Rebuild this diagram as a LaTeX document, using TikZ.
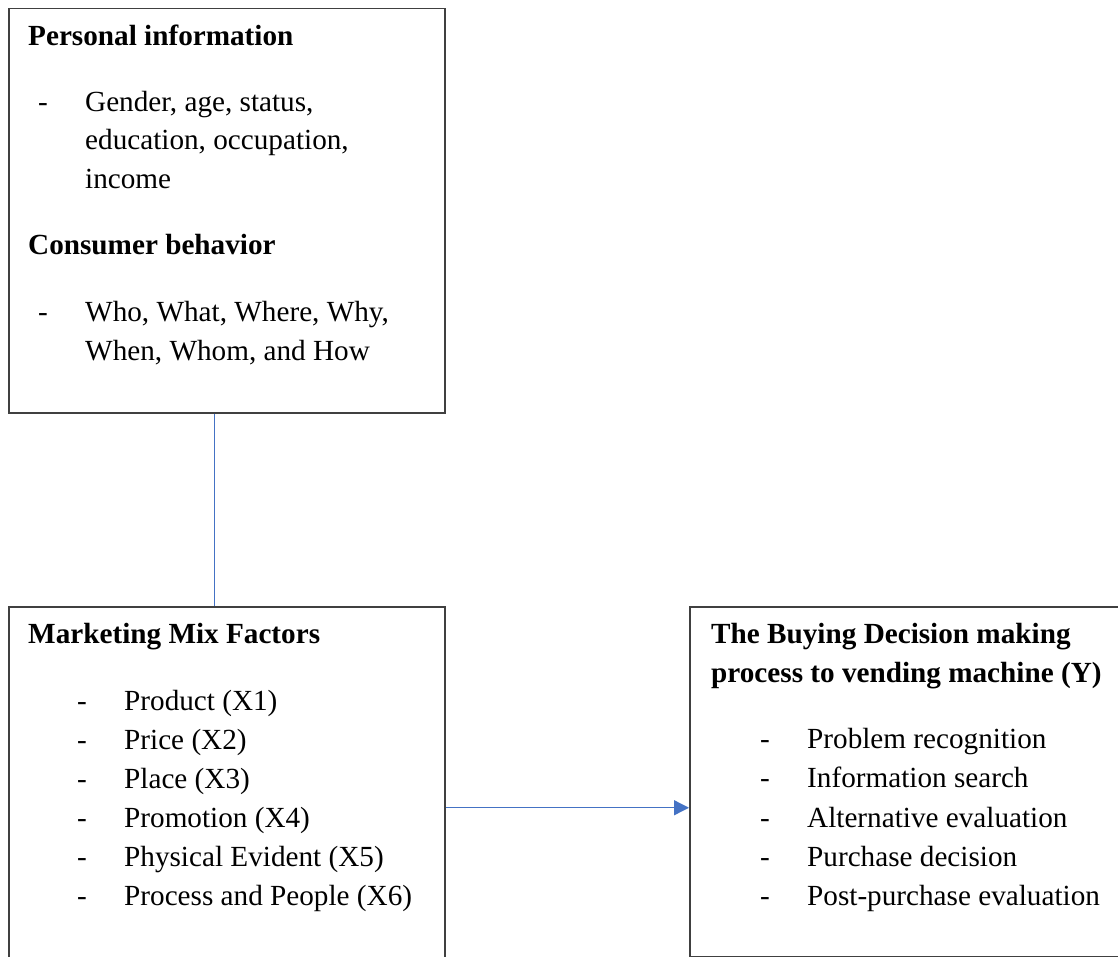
\documentclass[tikz,border=0pt]{standalone}
\usepackage{fontspec}
\setmainfont{Liberation Serif}
\usetikzlibrary{arrows.meta}
\definecolor{boxline}{HTML}{404040}
\definecolor{linkblue}{HTML}{4472C4}
\tikzset{
  panel/.style={draw=boxline, line width=1.5pt, rectangle, inner sep=0pt, anchor=north west},
  txt/.style={anchor=base west, inner sep=0pt, font=\fontsize{29.2}{39}\selectfont},
  head/.style={txt, font=\fontsize{29.2}{39}\selectfont\bfseries},
  link/.style={draw=linkblue, line width=1.3pt},
}
\begin{document}
\begin{tikzpicture}[x=1pt,y=-1pt]
\clip (0,0) rectangle (1118,957);
\fill[white] (0,0) rectangle (1118,957);
% boxes
\node[panel, minimum width=436pt, minimum height=404pt] (b1) at (8,8) {};
\node[panel, minimum width=436pt, minimum height=402pt] (b2) at (8,606) {};
\node[panel, minimum width=440pt, minimum height=350pt] (b3) at (689,606) {};
% box 1 text
\node[head] (t1) at (28,46) {Personal information};
\node[txt] (d1) at (38,112) {-};
\node[txt] (l1a) at (85,112) {Gender, age, status,};
\node[txt] (l1b) at (85,150) {education, occupation,};
\node[txt] (l1c) at (85,189) {income};
\node[head] (t2) at (28,255) {Consumer behavior};
\node[txt] (d2) at (38,322) {-};
\node[txt] (l2a) at (85,322) {Who, What, Where, Why,};
\node[txt] (l2b) at (85,360) {When, Whom, and How};
% box 2 text
\node[head] (t3) at (28,643) {Marketing Mix Factors};
\foreach \y/\s [count=\i] in {710/{Product (X1)},749/{Price (X2)},788/{Place (X3)},827/{Promotion (X4)},866/{Physical Evident (X5)},905/{Process and People (X6)}}{
  \node[txt] (md\i) at (77,\y) {-};
  \node[txt] (m\i) at (124,\y) {\s};
}
% box 3 text
\node[head] (t4) at (711,643) {The Buying Decision making};
\node[head] (t5) at (711,682) {process to vending machine (Y)};
\foreach \y/\s [count=\i] in {748/{Problem recognition},787/{Information search},827/{Alternative evaluation},866/{Purchase decision},905/{Post-purchase evaluation}}{
  \node[txt] (yd\i) at (760,\y) {-};
  \node[txt] (y\i) at (807,\y) {\s};
}
% connectors
\draw[link] ([xshift=-12pt]b1.south) -- ([xshift=-12pt]b2.north);
\draw[link, -{Triangle[length=15pt, width=15pt]}] (b2.east) -- (b2.east -| b3.west);
\end{tikzpicture}
\end{document}
